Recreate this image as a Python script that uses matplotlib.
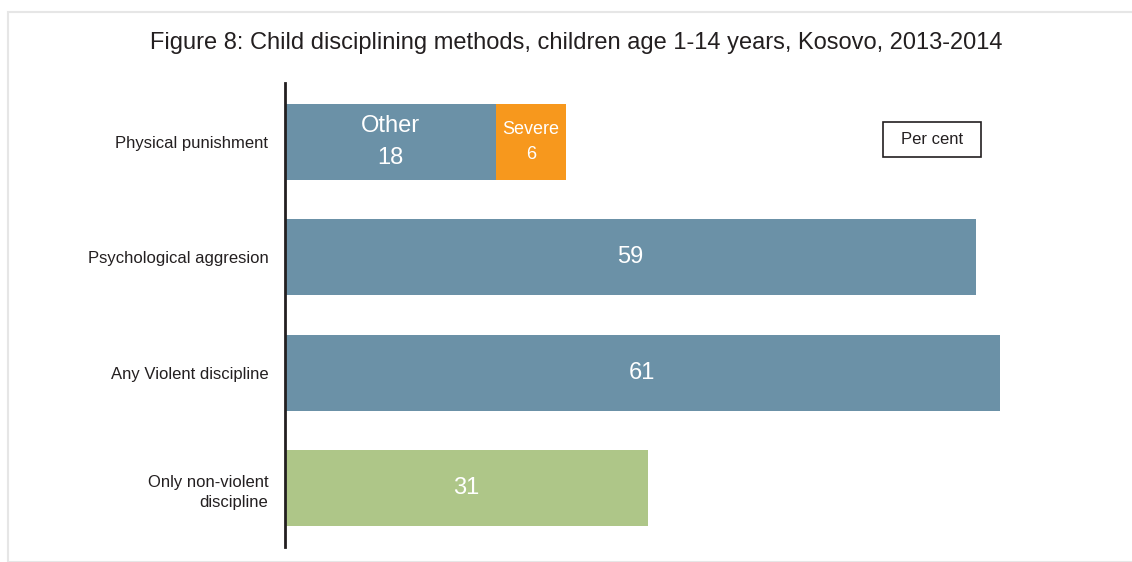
import matplotlib.pyplot as plt
from matplotlib.patches import Rectangle

plt.rcParams['font.family'] = ['Liberation Sans', 'DejaVu Sans']

# data
categories = ['Physical punishment', 'Psychological aggresion',
              'Any Violent discipline', 'Only non-violent\ndiscipline']
other = [18, 59, 61, 0]
severe = [6, 0, 0, 0]
nonviolent = [0, 0, 0, 31]

blue = '#6b91a7'
orange = '#f7981d'
green = '#aec688'
dark = '#231f20'

fig = plt.figure(figsize=(11.32, 5.62), dpi=100)
W, H = 1132, 562

# faint page frame
fig.patches.append(Rectangle((8 / W, 0), 1.2, (H - 12) / H, transform=fig.transFigure,
                             facecolor='white', edgecolor='#e6e6e6', lw=1.5, zorder=-5))

ax = fig.add_axes([285 / W, (H - 547) / H, 820 / W, 464 / H])
ax.set_zorder(2)
ax.patch.set_alpha(0)
y = list(range(len(categories)))
h = 0.66
ax.barh(y, other, height=h, color=blue)
ax.barh(y, severe, left=other, height=h, color=orange)
ax.barh(y, nonviolent, height=h, color=green)

ax.set_xlim(0, 70)
ax.set_ylim(3.51, -0.51)
for s in ['top', 'right', 'bottom']:
    ax.spines[s].set_visible(False)
ax.spines['left'].set_linewidth(2)
ax.spines['left'].set_color(dark)
ax.set_xticks([])
ax.set_yticks(y)
ax.set_yticklabels(categories, fontsize=12, color=dark, linespacing=1.45)
ax.tick_params(axis='y', length=0, pad=12)

# value labels
ax.text(other[0] / 2, 0, 'Other\n' + str(other[0]), ha='center', va='center',
        color='white', fontsize=17, linespacing=1.55)
ax.text(other[0] + severe[0] / 2, 0, 'Severe\n' + str(severe[0]), ha='center', va='center',
        color='white', fontsize=13, linespacing=1.6)
for i in [1, 2]:
    ax.text(other[i] / 2, i, str(other[i]), ha='center', va='center', color='white', fontsize=17)
ax.text(nonviolent[3] / 2, 3, str(nonviolent[3]), ha='center', va='center', color='white', fontsize=17)

fig.text(576 / W, 1 - 43 / H,
         'Figure 8: Child disciplining methods, children age 1-14 years, Kosovo, 2013-2014',
         ha='center', va='center', fontsize=17, color=dark)

# "Per cent" box
fig.patches.append(Rectangle((883 / W, 1 - 157 / H), 98 / W, 35 / H, transform=fig.transFigure,
                             facecolor='white', edgecolor=dark, lw=1.2, zorder=3))
fig.text(932 / W, 1 - 139.5 / H, 'Per cent', ha='center', va='center', fontsize=12,
         color=dark, zorder=4)

fig.savefig('out.png', dpi=100)
